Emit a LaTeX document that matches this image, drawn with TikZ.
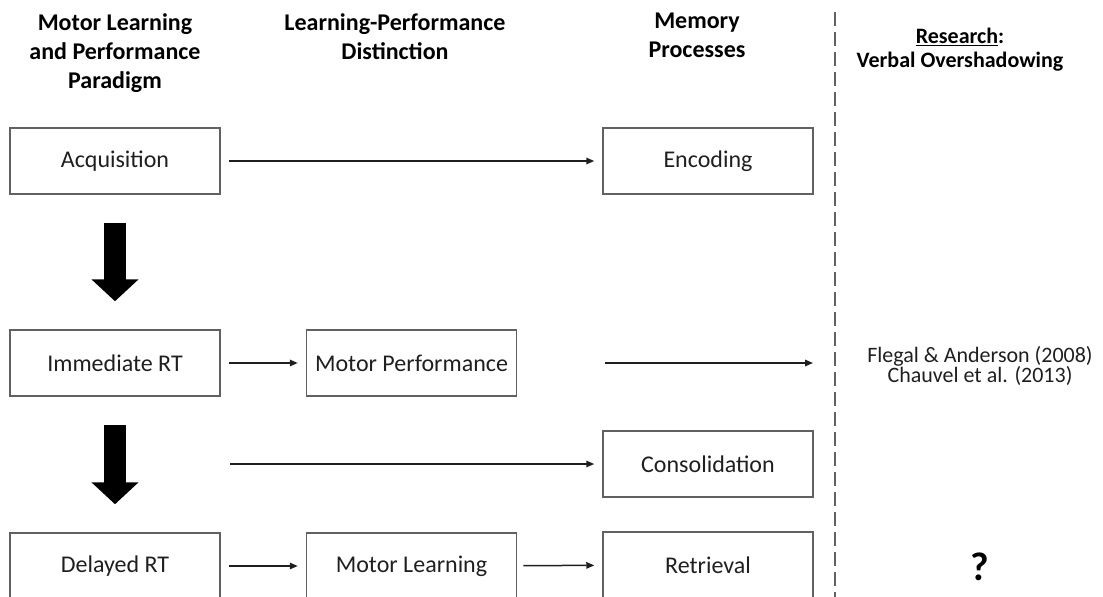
\documentclass[tikz,border=0pt]{standalone}
\usepackage{fontspec}
\setmainfont{Carlito}
\usetikzlibrary{arrows.meta}
\usepackage{xcolor}
\definecolor{boxgray}{rgb}{0.38, 0.38, 0.38}
\definecolor{inkblack}{rgb}{0.12, 0.12, 0.12}

\begin{document}
\begin{tikzpicture}[x=1pt, y=-1pt,
  stagebox/.style={draw=boxgray, line width=1.5pt, minimum width=210pt, minimum height=66pt, inner sep=0pt, text=inkblack, font=\fontsize{24}{29}\selectfont},
  header/.style={align=center, anchor=north, inner sep=0pt, text=black, font=\bfseries\fontsize{24}{29}\selectfont},
  thin arrow/.style={draw=inkblack, line width=1.5pt, -{Triangle[length=8pt, width=6.5pt]}, shorten <=8pt, shorten >=8pt},
  fat arrow/.style={draw=black, line width=22pt, -{Triangle[length=22pt, width=46pt]}, shorten <=28pt, shorten >=28pt}]

\useasboundingbox (0,0) rectangle (1103,597);

\node[header] (h1) at (115,13) {Motor Learning\\and Performance\\Paradigm};
\node[header] (h2) at (395,13) {Learning-Performance\\Distinction};
\node[header] (h3) at (697,13) {Memory\\Processes};
\node[header, font=\bfseries\fontsize{22}{24}\selectfont] (h4) at (960,28) {\underline{Research}:\\Verbal Overshadowing};

\node[stagebox] (acq) at (115,161) {Acquisition};
\node[stagebox] (enc) at (708,161) {Encoding};
\node[stagebox] (imm) at (115,363) {Immediate RT};
\node[stagebox] (mperf) at (411.5,363) {Motor Performance};
\node[stagebox] (cons) at (708,464) {Consolidation};
\node[stagebox] (del) at (115,566) {Delayed RT};
\node[stagebox] (mlearn) at (411.5,566) {Motor Learning};
\node[stagebox] (retr) at (708,565) {Retrieval};

\node[align=center, inner sep=0pt, text=inkblack, font=\fontsize{22}{20}\selectfont] (flegal) at (980,366) {Flegal \& Anderson (2008)\\Chauvel et al. (2013)};
\node[inner sep=0pt, text=black, font=\bfseries\fontsize{40}{44}\selectfont] (query) at (980,567) {?};

\coordinate (consstart) at (230,464);
\coordinate (perfstart) at (605,363);
\coordinate (perfend) at (813,363);
\coordinate (divtop) at (835,12);
\coordinate (divbot) at (835,597);

\draw[fat arrow] (acq.south) -- (imm.north);
\draw[fat arrow] (imm.south) -- (del.north);

\draw[thin arrow] (acq) -- (enc);
\draw[thin arrow] (imm) -- (mperf);
\draw[thin arrow, shorten <=0pt] (consstart) -- (cons);
\draw[thin arrow, shorten <=0pt, shorten >=0pt] (perfstart) -- (perfend);
\draw[thin arrow] (del) -- (mlearn);
\draw[thin arrow, shorten <=6pt] (mlearn) -- (retr);

\draw[boxgray, line width=2pt, dash pattern=on 14pt off 6pt] (divtop) -- (divbot);

\end{tikzpicture}
\end{document}
